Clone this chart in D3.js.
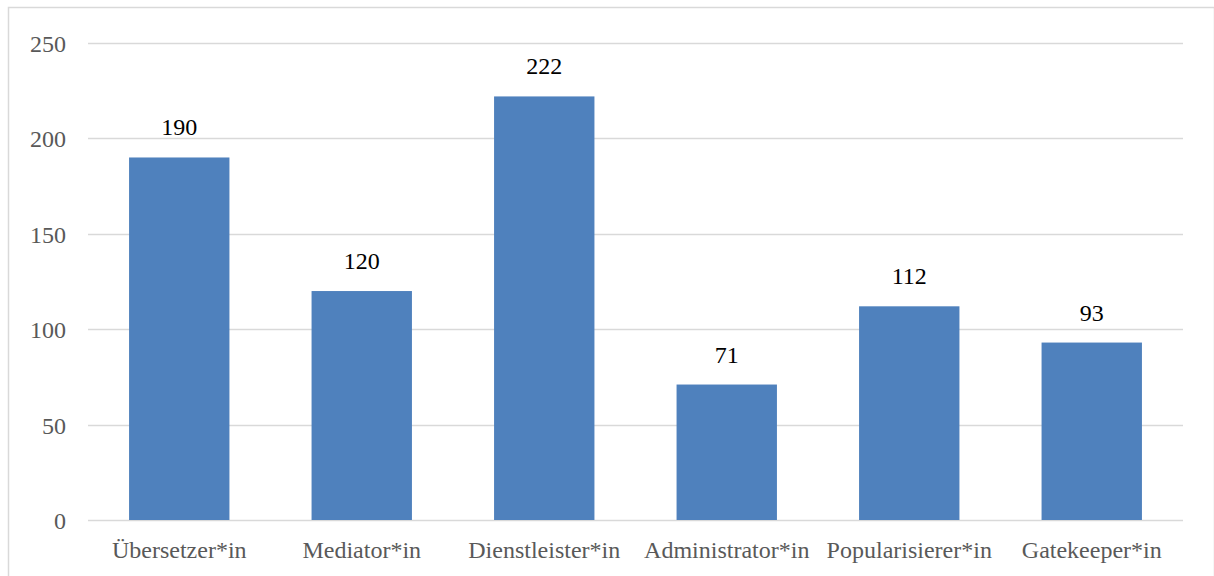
<!DOCTYPE html>
<html>
<head>
<meta charset="utf-8">
<script src="https://cdn.jsdelivr.net/npm/d3@7"></script>
<style>
  html, body { margin: 0; padding: 0; background: #fff; }
  svg { display: block; }
  text { font-family: "Liberation Serif", "DejaVu Serif", serif; }
</style>
</head>
<body>
<svg id="chart" width="1214" height="576"></svg>
<script>
// Role categories and counts
const categories = ["Übersetzer*in", "Mediator*in", "Dienstleister*in", "Administrator*in", "Popularisierer*in", "Gatekeeper*in"];
const counts = [190, 120, 222, 71, 112, 93];
const yTicks = [0, 50, 100, 150, 200, 250];

const svg = d3.select("#chart");
const W = 1214, H = 576;
const plot = { left: 88, right: 1183, top: 43, bottom: 520 };

// chart frame
svg.append("rect")
  .attr("x", 8.5).attr("y", 7.5)
  .attr("width", W - 8).attr("height", H)
  .attr("fill", "#fff").attr("stroke", "#d9d9d9").attr("stroke-width", 1.5);

const x = d3.scaleBand()
  .domain(categories)
  .range([plot.left, plot.right])
  .paddingInner(0.45).paddingOuter(0.225);

const y = d3.scaleLinear()
  .domain([0, 250])
  .range([plot.bottom, plot.top]);

// horizontal gridlines
svg.append("g")
  .selectAll("line")
  .data(yTicks)
  .join("line")
  .attr("x1", plot.left).attr("x2", plot.right)
  .attr("y1", d => Math.round(y(d)) + 0.5).attr("y2", d => Math.round(y(d)) + 0.5)
  .attr("stroke", "#d9d9d9").attr("stroke-width", 1.5);

// y axis labels
const yAxis = d3.axisLeft(y).tickValues(yTicks).tickSize(0).tickPadding(0);
const gy = svg.append("g").attr("transform", `translate(66,0)`).call(yAxis);
gy.select(".domain").remove();
gy.selectAll("text")
  .attr("fill", "#595959")
  .style("font-size", "24px")
  .attr("dy", "0.35em");

// bars
svg.append("g")
  .selectAll("rect")
  .data(counts)
  .join("rect")
  .attr("x", (d, i) => x(categories[i]))
  .attr("y", d => y(d))
  .attr("width", x.bandwidth())
  .attr("height", d => y(0) - y(d))
  .attr("fill", "#4f81bd");

// value labels above bars
svg.append("g")
  .selectAll("text")
  .data(counts)
  .join("text")
  .attr("x", (d, i) => x(categories[i]) + x.bandwidth() / 2)
  .attr("y", d => y(d) - 22)
  .attr("text-anchor", "middle")
  .attr("fill", "#000")
  .style("font-size", "24px")
  .text(d => d);

// category axis labels
const xAxis = d3.axisBottom(x).tickSize(0).tickPadding(0);
const gx = svg.append("g").attr("transform", `translate(0,${plot.bottom})`).call(xAxis);
gx.select(".domain").remove();
gx.selectAll("text")
  .attr("fill", "#595959")
  .attr("y", 38)
  .attr("dy", "0")
  .style("font-size", "24px");
</script>
</body>
</html>
